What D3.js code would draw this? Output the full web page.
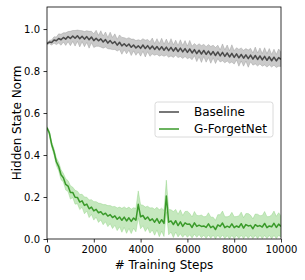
<!DOCTYPE html>
<html>
<head>
<meta charset="utf-8">
<script src="https://cdn.jsdelivr.net/npm/d3@7"></script>
<style>
	body { margin: 0; background: #fff; }
	text { font-family: "DejaVu Sans", sans-serif; }
</style>
</head>
<body>
<div id="graph"></div>
<script>
// Training steps, sampled every 100
var steps = d3.range(0, 10001, 100);

// Baseline hidden state norm (mean and std spread)
var baseline_mean = [
	0.930, 0.938, 0.936, 0.948, 0.944, 0.955, 0.949, 0.960, 0.952, 0.964,
	0.955, 0.967, 0.956, 0.968, 0.954, 0.966, 0.952, 0.964, 0.949, 0.962,
	0.945, 0.956, 0.944, 0.953, 0.938, 0.950, 0.933, 0.945, 0.931, 0.940,
	0.923, 0.937, 0.920, 0.930, 0.918, 0.929, 0.913, 0.924, 0.910, 0.920,
	0.908, 0.924, 0.907, 0.921, 0.905, 0.919, 0.903, 0.917, 0.901, 0.916,
	0.899, 0.914, 0.897, 0.913, 0.895, 0.911, 0.893, 0.909, 0.891, 0.907,
	0.889, 0.905, 0.886, 0.902, 0.883, 0.899, 0.881, 0.898, 0.879, 0.895,
	0.877, 0.893, 0.874, 0.891, 0.872, 0.889, 0.870, 0.886, 0.867, 0.884,
	0.865, 0.882, 0.863, 0.879, 0.861, 0.877, 0.859, 0.876, 0.857, 0.874,
	0.855, 0.872, 0.853, 0.870, 0.851, 0.868, 0.849, 0.866, 0.848, 0.864,
	0.856
];
var baseline_spread = [
	0.004, 0.008, 0.012, 0.015, 0.018, 0.022, 0.026, 0.022, 0.030, 0.024,
	0.034, 0.026, 0.037, 0.027, 0.039, 0.026, 0.036, 0.028, 0.040, 0.027,
	0.033, 0.038, 0.026, 0.039, 0.029, 0.036, 0.027, 0.040, 0.029, 0.037,
	0.028, 0.035, 0.040, 0.029, 0.036, 0.030, 0.039, 0.028, 0.035, 0.029,
	0.037, 0.030, 0.040, 0.029, 0.035, 0.038, 0.028, 0.037, 0.030, 0.040,
	0.029, 0.038, 0.031, 0.041, 0.030, 0.036, 0.029, 0.040, 0.031, 0.038,
	0.030, 0.041, 0.032, 0.029, 0.038, 0.031, 0.040, 0.029, 0.037, 0.031,
	0.040, 0.030, 0.038, 0.032, 0.029, 0.040, 0.031, 0.038, 0.030, 0.041,
	0.032, 0.029, 0.040, 0.031, 0.038, 0.030, 0.041, 0.032, 0.029, 0.040,
	0.031, 0.038, 0.030, 0.041, 0.032, 0.039, 0.030, 0.038, 0.031, 0.041,
	0.034
];

// G-ForgetNet hidden state norm (mean and std spread)
var gfn_mean = [
	0.530, 0.505, 0.450, 0.415, 0.368, 0.345, 0.306, 0.292, 0.260, 0.252,
	0.222, 0.222, 0.199, 0.198, 0.176, 0.182, 0.160, 0.166, 0.144, 0.152,
	0.134, 0.141, 0.125, 0.130, 0.116, 0.123, 0.109, 0.116, 0.102, 0.110,
	0.094, 0.105, 0.089, 0.104, 0.086, 0.101, 0.084, 0.100, 0.090, 0.165,
	0.106, 0.112, 0.094, 0.105, 0.088, 0.096, 0.080, 0.097, 0.075, 0.092,
	0.074, 0.205, 0.080, 0.086, 0.069, 0.087, 0.064, 0.082, 0.060, 0.077,
	0.070, 0.071, 0.055, 0.077, 0.060, 0.066, 0.060, 0.062, 0.055, 0.072,
	0.054, 0.061, 0.045, 0.067, 0.060, 0.076, 0.054, 0.061, 0.055, 0.072,
	0.054, 0.062, 0.056, 0.073, 0.052, 0.069, 0.062, 0.065, 0.049, 0.068,
	0.060, 0.064, 0.057, 0.074, 0.054, 0.062, 0.058, 0.075, 0.055, 0.071,
	0.060
];
var gfn_spread = [
	0.005, 0.010, 0.012, 0.015, 0.018, 0.020, 0.024, 0.020, 0.027, 0.026,
	0.032, 0.025, 0.033, 0.030, 0.036, 0.031, 0.040, 0.033, 0.042, 0.035,
	0.044, 0.037, 0.046, 0.039, 0.048, 0.041, 0.050, 0.043, 0.052, 0.045,
	0.054, 0.047, 0.057, 0.049, 0.059, 0.051, 0.058, 0.049, 0.056, 0.064,
	0.057, 0.049, 0.058, 0.051, 0.060, 0.053, 0.062, 0.054, 0.064, 0.055,
	0.062, 0.075, 0.060, 0.053, 0.062, 0.054, 0.054, 0.057, 0.052, 0.054,
	0.062, 0.051, 0.050, 0.054, 0.052, 0.045, 0.054, 0.044, 0.052, 0.053,
	0.050, 0.043, 0.044, 0.049, 0.056, 0.057, 0.052, 0.045, 0.054, 0.055,
	0.052, 0.045, 0.054, 0.055, 0.050, 0.052, 0.059, 0.048, 0.047, 0.051,
	0.058, 0.047, 0.055, 0.057, 0.052, 0.045, 0.056, 0.058, 0.053, 0.054,
	0.050
];

var x_ticks = [0, 2000, 4000, 6000, 8000, 10000];
var y_ticks = [0.0, 0.2, 0.4, 0.6, 0.8, 1.0];
var legend_names = ["Baseline", "G-ForgetNet"];

function make_graph() {
	var margin = {top: 7, right: 24, bottom: 41, left: 47};
	var width = 305 - margin.left - margin.right;
	var height = 280 - margin.top - margin.bottom;

	var scale_step = d3.scaleLinear()
		.range([0, width])
		.domain([0, 10000]);
	var scale_norm = d3.scaleLinear()
		.range([height, 0])
		.domain([0, 1.105]);

	var svg = d3.select("#graph").append("svg")
		.attr("width", 305)
		.attr("height", 280)
		.append("g")
		.attr("transform", "translate(" + margin.left + "," + margin.top + ")");

	svg.append("defs").append("clipPath")
		.attr("id", "clip")
		.append("rect")
		.attr("width", width)
		.attr("height", height);

	var plot = svg.append("g").attr("clip-path", "url(#clip)");

	var series = [
		{mean: baseline_mean, spread: baseline_spread, line: "#4a4a4a", band: "#8a8a8a"},
		{mean: gfn_mean, spread: gfn_spread, line: "#3a9a2a", band: "#7fcc6f"}
	];

	series.forEach(function(s) {
		var area = d3.area()
			.x(function(d, i) {return scale_step(steps[i]);})
			.y0(function(d, i) {return scale_norm(d - s.spread[i]);})
			.y1(function(d, i) {return scale_norm(d + s.spread[i]);});
		var line = d3.line()
			.x(function(d, i) {return scale_step(steps[i]);})
			.y(function(d) {return scale_norm(d);});

		// std band
		plot.append("path")
			.attr("fill", s.band)
			.attr("fill-opacity", 0.45)
			.attr("stroke", s.band)
			.attr("stroke-opacity", 0.6)
			.attr("stroke-width", 0.6)
			.attr("d", area(s.mean));

		// mean curve
		plot.append("path")
			.attr("fill", "none")
			.attr("stroke", s.line)
			.attr("stroke-width", 1.5)
			.attr("stroke-linejoin", "round")
			.attr("d", line(s.mean));
	});

	// Axes
	var x_axis = svg.append("g")
		.attr("transform", "translate(0," + height + ")")
		.call(d3.axisBottom(scale_step).tickValues(x_ticks).tickSize(3.5).tickPadding(3.5).tickFormat(d3.format("d")));
	var y_axis = svg.append("g")
		.call(d3.axisLeft(scale_norm).tickValues(y_ticks).tickSize(3.5).tickPadding(3.5).tickFormat(d3.format(".1f")));

	[x_axis, y_axis].forEach(function(a) {
		a.select(".domain").remove();
		a.selectAll("line").attr("stroke", "#000").attr("stroke-width", 0.8);
		a.selectAll("text")
			.style("font-family", "DejaVu Sans")
			.style("font-size", "10px")
			.attr("fill", "#000");
	});

	// Frame
	svg.append("rect")
		.attr("width", width)
		.attr("height", height)
		.attr("fill", "none")
		.attr("stroke", "#000")
		.attr("stroke-width", 0.8);

	svg.append("text")
		.attr("x", width / 2)
		.attr("y", height + 30)
		.style("text-anchor", "middle")
		.style("font-size", "12px")
		.text("# Training Steps");

	svg.append("text")
		.attr("transform", "rotate(-90)")
		.attr("x", -height / 2)
		.attr("y", -26)
		.style("text-anchor", "middle")
		.style("font-size", "12px")
		.text("Hidden State Norm");

	// Legend
	var legend = svg.append("g")
		.attr("transform", "translate(" + (155 - margin.left) + "," + (102 - margin.top) + ")");
	legend.append("rect")
		.attr("width", 118)
		.attr("height", 35)
		.attr("rx", 2.5)
		.attr("fill", "#fff")
		.attr("fill-opacity", 0.8)
		.attr("stroke", "#d0d0d0")
		.attr("stroke-width", 0.8);
	legend_names.forEach(function(name, i) {
		var y = 10 + i * 17;
		legend.append("line")
			.attr("x1", 4)
			.attr("x2", 24)
			.attr("y1", y)
			.attr("y2", y)
			.attr("stroke", series[i].line)
			.attr("stroke-width", 1.5);
		legend.append("text")
			.attr("x", 39)
			.attr("y", y)
			.attr("dy", "0.36em")
			.style("font-size", "12px")
			.text(name);
	});
}

make_graph();
</script>
</body>
</html>
